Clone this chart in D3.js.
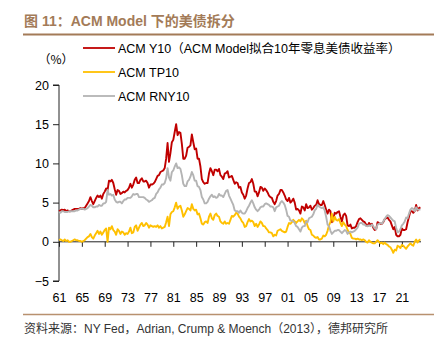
<!DOCTYPE html>
<html>
<head>
<meta charset="utf-8">
<script src="https://cdn.jsdelivr.net/npm/d3@7"></script>
<style>
  body { margin: 0; background: #fff; }
  svg { display: block; font-family: "Liberation Sans", Arial, "Noto Sans CJK SC", sans-serif; }
</style>
</head>
<body>
<svg id="chart" width="439" height="339"></svg>
<script>
// quarterly values, first point = 1961 Q1
const startYear = 1961;

const y10 = [
  3.9, 4.0, 4.1, 4.0,  4.1, 3.9, 4.0, 3.9,  3.9, 4.0, 4.1, 4.2,  4.2, 4.2, 4.2, 4.3,
  4.2, 4.3, 4.3, 4.6,  4.9, 5.2, 5.7, 5.2,  4.8, 5.2, 5.6, 5.9,  5.7, 5.9, 5.5, 6.1,
  6.4, 6.8, 6.6, 7.8,  7.7, 7.9, 7.5, 6.7,  6.0, 6.6, 6.5, 6.1,  6.2, 6.4, 6.3, 6.5,
  6.6, 6.9, 7.4, 6.9,  7.3, 7.9, 8.2, 7.5,  7.5, 7.9, 8.1, 7.7,  7.7, 7.8, 7.5, 6.9,
  7.3, 7.3, 7.4, 7.6,  8.0, 8.4, 8.5, 8.9,  9.0, 9.1, 9.4, 10.6, 12.6, 10.2, 11.3, 12.7,
  13.0, 14.0, 15.0, 13.6, 14.0, 13.9, 12.5, 10.6, 10.6, 11.0, 12.0, 12.1, 12.3, 13.7, 12.7, 11.8,
  11.9, 10.6, 10.6, 9.6, 8.0, 7.6, 7.4, 7.5,  7.5, 8.7, 9.4, 9.0,  8.5, 9.2, 9.2, 9.0,
  9.3, 8.5, 8.3, 8.0,  8.7, 8.8, 9.0, 8.2,  8.3, 8.4, 7.9, 7.4,  7.6, 7.5, 6.9, 7.0,
  6.3, 6.0, 5.5, 5.9,  6.8, 7.5, 7.6, 8.0,  7.4, 6.4, 6.4, 5.8,  6.3, 7.0, 6.9, 6.5,
  6.8, 6.6, 6.3, 5.9,  5.7, 5.6, 5.1, 4.8,  5.2, 5.9, 6.1, 6.6,  6.6, 6.3, 5.9, 5.4,
  5.2, 5.6, 5.0, 5.2,  5.5, 5.0, 4.1, 4.2,  4.0, 3.6, 4.5, 4.4,  4.0, 4.8, 4.3, 4.4,
  4.6, 4.1, 4.3, 4.6,  4.7, 5.3, 4.8, 4.7,  4.7, 5.2, 4.7, 4.1,  3.6, 4.1, 3.9, 2.5,
  2.9, 3.7, 3.6, 3.8,  3.9, 3.2, 2.6, 3.4,  3.6, 3.3, 2.1, 2.0,  2.2, 1.7, 1.8, 1.8,
  2.0, 2.5, 2.9, 3.0,  2.8, 2.6, 2.5, 2.2,  2.0, 2.4, 2.2, 2.3,  1.8, 1.5, 1.6, 2.5,
  2.4, 2.3, 2.3, 2.5,  2.9, 3.0, 3.1, 2.8,  2.6, 2.1, 1.6, 1.9,  0.9, 0.7, 0.7, 0.9,
  1.7, 1.5, 1.5, 1.6,  2.5, 3.2, 3.9, 3.9,  3.7, 3.9, 4.7, 4.0,  4.3, 4.4
];

const tp10 = [
  0.2, 0.3, 0.2, 0.1,  0.3, 0.1, 0.2, 0.0,  0.0, 0.1, 0.2, 0.3,  0.2, 0.2, 0.1, 0.1,
  0.0, 0.1, 0.2, 0.4,  0.6, 0.7, 1.0, 0.6,  0.4, 0.8, 1.1, 1.4,  1.0, 1.3, 0.9, 1.2,
  1.5, 1.7, 0.0, 1.8,  1.6, 2.0, 1.5, 1.3,  0.9, 1.6, 1.4, 1.0,  1.3, 1.2, 0.9, 1.1,
  1.0, 1.3, 1.8, 1.1,  1.2, 1.9, 2.1, 1.4,  1.8, 2.2, 2.4, 2.0,  2.1, 2.4, 2.2, 1.8,
  2.1, 2.0, 1.9, 2.0,  1.9, 2.1, 1.8, 2.0,  1.7, 1.8, 1.9, 2.5,  3.2, 2.0, 3.5, 3.8,
  3.9, 4.4, 5.0, 4.2,  4.5, 4.6, 4.0, 3.2,  3.5, 3.9, 4.3, 4.2,  4.0, 4.8, 4.2, 4.0,
  4.1, 3.5, 3.6, 3.0,  2.3, 2.2, 2.5, 2.6,  2.4, 3.2, 3.6, 3.0,  2.8, 3.4, 3.6, 3.3,
  3.2, 2.6, 2.4, 2.3,  2.6, 2.3, 2.4, 2.3,  2.8, 3.3, 3.2, 3.4,  3.7, 3.6, 3.2, 3.0,
  2.6, 2.4, 1.9, 2.0,  2.5, 2.9, 2.6, 2.7,  2.5, 2.0, 2.3, 1.9,  2.2, 2.6, 2.4, 2.0,
  2.0, 1.7, 1.5, 1.2,  1.2, 1.1, 0.7, 0.9,  0.8, 1.4, 1.5, 1.6,  1.4, 1.3, 1.2, 1.3,
  1.9, 2.4, 2.3, 2.5,  2.8, 2.6, 2.4, 2.6,  2.8, 2.6, 3.0, 2.8,  2.4, 2.7, 2.0, 1.6,
  1.5, 0.9, 0.8, 0.6,  0.5, 0.6, 0.3, 0.3,  0.4, 0.8, 0.7, 0.9,  1.4, 2.1, 2.5, 3.6,
  2.6, 3.2, 2.8, 2.7,  2.9, 2.4, 2.0, 2.5,  2.2, 2.0, 1.5, 1.2,  1.0, 0.5, 0.4, 0.4,
  0.3, 0.4, 0.3, 0.3,  0.2, 0.3, 0.2, 0.0,  -0.1, 0.2, 0.0, -0.1, -0.2, -0.2, 0.0, 0.2,
  0.0, -0.2, -0.1, -0.3, -0.1, -0.3, -0.4, -0.6, -0.7, -1.0, -1.4, -1.0, -1.1, -0.5, -0.6, -0.8,
  -0.4, -0.5, -0.7, -0.9, -0.6, -0.4, -0.2, -0.4, -0.5, 0.0, 0.3, -0.1, 0.2, 0.3
];

const rny10 = [
  3.8, 3.7, 3.9, 3.9,  3.8, 3.8, 3.8, 3.9,  3.9, 3.9, 3.9, 3.9,  4.0, 4.0, 4.1, 4.2,
  4.2, 4.2, 4.1, 4.2,  4.3, 4.5, 4.7, 4.6,  4.4, 4.4, 4.5, 4.5,  4.7, 4.6, 4.6, 4.9,
  4.9, 5.1, 6.6, 6.0,  6.1, 5.9, 6.0, 5.4,  5.1, 5.0, 5.1, 5.1,  4.9, 5.2, 5.4, 5.4,
  5.6, 5.6, 5.6, 5.8,  6.1, 6.0, 6.1, 6.1,  5.7, 5.7, 5.7, 5.7,  5.6, 5.4, 5.3, 5.1,
  5.2, 5.3, 5.5, 5.6,  6.1, 6.3, 6.7, 6.9,  7.3, 7.3, 7.5, 8.1,  9.4, 8.2, 7.8, 8.9,
  9.1, 9.6, 10.0, 9.4, 9.5, 9.3, 8.5, 7.4,  7.1, 7.1, 7.7, 7.9,  8.3, 8.9, 8.5, 7.8,
  7.8, 7.1, 7.0, 6.6,  5.7, 5.4, 4.9, 4.9,  5.1, 5.5, 5.8, 6.0,  5.7, 5.8, 5.6, 5.7,
  6.1, 5.9, 5.9, 5.7,  6.1, 6.5, 6.6, 5.9,  5.5, 5.1, 4.7, 4.0,  3.9, 3.9, 3.7, 4.0,
  3.7, 3.6, 3.6, 3.9,  4.3, 4.6, 5.0, 5.3,  4.9, 4.4, 4.1, 3.9,  4.1, 4.4, 4.5, 4.5,
  4.8, 4.9, 4.8, 4.7,  4.5, 4.5, 4.4, 3.9,  4.4, 4.5, 4.6, 5.0,  5.2, 5.0, 4.7, 4.1,
  3.3, 3.2, 2.7, 2.7,  2.6, 2.4, 2.0, 1.9,  1.6, 1.3, 1.8, 2.0,  2.0, 2.6, 2.5, 3.0,
  3.1, 3.2, 3.5, 4.0,  4.2, 4.7, 4.5, 4.4,  4.3, 4.4, 4.0, 3.2,  2.2, 2.0, 1.4, 1.0,
  1.2, 1.4, 1.4, 1.5,  1.5, 1.3, 1.1, 1.3,  1.5, 1.4, 1.0, 1.2,  1.3, 1.2, 1.3, 1.4,
  1.6, 1.8, 2.3, 2.4,  2.4, 2.2, 2.2, 2.0,  2.0, 2.1, 2.0, 2.2,  2.0, 1.7, 1.6, 2.2,
  2.3, 2.4, 2.3, 2.6,  2.9, 3.2, 3.4, 3.3,  3.1, 2.9, 2.7, 2.6,  1.8, 1.2, 1.3, 1.6,
  2.1, 2.3, 2.6, 3.1,  3.0, 3.6, 4.1, 4.3,  4.2, 3.9, 4.4, 4.1,  4.1, 4.1
];

const seriesNames = ["ACM Y10（ACM Model拟合10年零息美债收益率）", "ACM TP10", "ACM RNY10"];
const seriesColors = ["#c00000", "#ffc000", "#b4b4b4"];
const xTicks = [1961, 1965, 1969, 1973, 1977, 1981, 1985, 1989, 1993, 1997, 2001, 2005, 2009, 2013, 2017, 2021];
const yTicks = [-5, 0, 5, 10, 15, 20];

const svg = d3.select("#chart");
const brown = "#a37b58";

// header
svg.append("text")
  .attr("x", 24).attr("y", 26)
  .attr("fill", brown)
  .attr("font-size", 14).attr("font-weight", "bold")
  .attr("font-family", "'Liberation Sans', 'Noto Sans CJK SC', sans-serif")
  .text("图 11：ACM Model 下的美债拆分");
svg.append("line")
  .attr("x1", 23).attr("x2", 434).attr("y1", 34.5).attr("y2", 34.5)
  .attr("stroke", brown).attr("stroke-width", 2);

// footer
svg.append("line")
  .attr("x1", 23).attr("x2", 434).attr("y1", 314.5).attr("y2", 314.5)
  .attr("stroke", "#b8916f").attr("stroke-width", 1.5);
svg.append("text")
  .attr("x", 24).attr("y", 333)
  .attr("fill", "#333")
  .attr("font-size", 12)
  .text("资料来源：NY Fed，Adrian, Crump & Moench（2013），德邦研究所");

// scales
const x = d3.scaleLinear().domain([1961, 2024.35]).range([59, 421]);
const y = d3.scaleLinear().domain([-5, 20]).range([281, 85]);

// axes
const yAxis = svg.append("g")
  .attr("transform", "translate(59,0)")
  .call(d3.axisLeft(y).tickValues(yTicks).tickSize(6).tickPadding(4));
yAxis.select(".domain").attr("d", `M-6,${y(20)}H0V${y(-5)}H-6`);

const xAxis = svg.append("g")
  .attr("transform", `translate(0,${y(0)})`)
  .call(d3.axisBottom(x).tickValues(xTicks).tickSize(5)
    .tickFormat(d => String(d % 100).padStart(2, "0")));
xAxis.select(".domain").attr("d", `M${x(1961)},0H${x(2024.35)}`);
xAxis.selectAll(".tick text").attr("transform", `translate(0,${y(-5) - y(0) + 4})`);

svg.selectAll(".tick text").attr("font-size", 12.5).attr("fill", "#000")
  .attr("font-family", "'Liberation Sans', Arial, sans-serif");
svg.selectAll(".domain, .tick line").attr("stroke", "#222");

// unit label
svg.append("text")
  .attr("x", 56).attr("y", 64)
  .attr("text-anchor", "middle")
  .attr("font-size", 12)
  .attr("font-family", "'Noto Sans CJK SC', sans-serif")
  .text("（%）");

// lines
const line = d3.line()
  .x((d, i) => x(startYear + i / 4))
  .y(d => y(d));

[y10, tp10, rny10].forEach((values, k) => {
  svg.append("path")
    .datum(values)
    .attr("fill", "none")
    .attr("stroke", seriesColors[k])
    .attr("stroke-width", 1.9)
    .attr("stroke-linejoin", "round")
    .attr("d", line);
});

// legend
const legend = svg.append("g")
  .selectAll("g")
  .data(seriesNames)
  .join("g")
  .attr("transform", (d, i) => `translate(83,${48 + i * 24})`);
legend.append("line")
  .attr("x1", 0).attr("x2", 32)
  .attr("stroke", (d, i) => seriesColors[i])
  .attr("stroke-width", 1.8);
legend.append("text")
  .attr("x", 35).attr("y", 4.5)
  .attr("font-size", 12.5)
  .text(d => d);
</script>
</body>
</html>
